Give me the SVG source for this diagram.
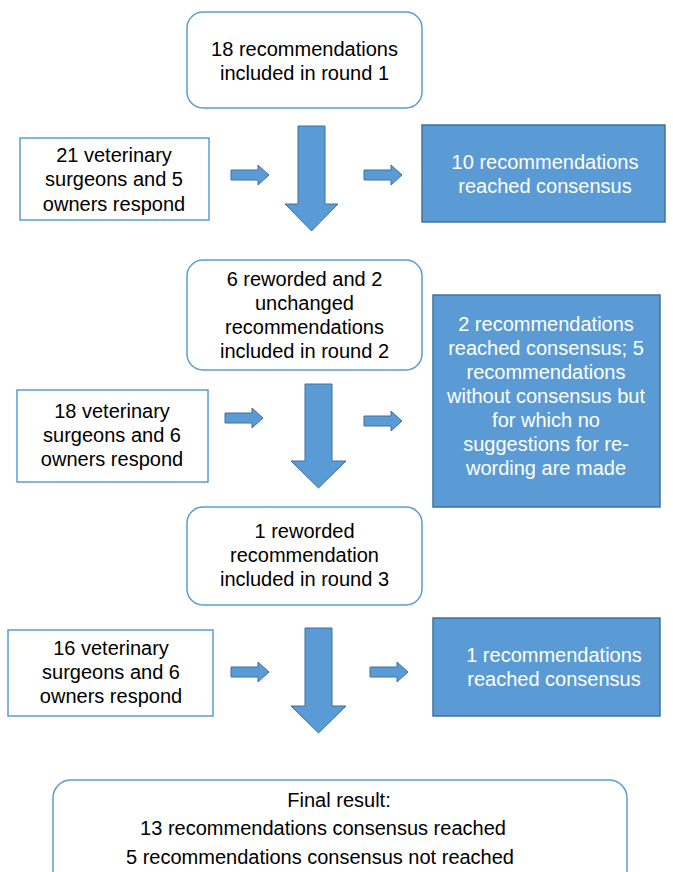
<svg xmlns="http://www.w3.org/2000/svg" width="673" height="872" viewBox="0 0 673 872">
<style>
text{font-family:"Liberation Sans",Arial,sans-serif;font-size:20px;text-anchor:middle;fill:#000}
.w{fill:#fff}
.rnd{fill:#fff;stroke:#5B9BD5;stroke-width:1.5}
.sq{fill:#fff;stroke:#5B9BD5;stroke-width:1.5}
.bl{fill:#5B9BD5;stroke:#41719C;stroke-width:1.5}
.ar{fill:#5B9BD5;stroke:#41719C;stroke-width:1}
</style>
<rect width="673" height="872" fill="#fff"/>
<g id="round1">
<rect class="rnd" x="187" y="12" width="235" height="96" rx="16"/>
<text x="304.5" y="56">18 recommendations</text>
<text x="304.5" y="80">included in round 1</text>
</g>
<g id="respond1">
<rect class="sq" x="20" y="138" width="189" height="82"/>
<text x="114" y="162">21 veterinary</text>
<text x="114" y="186">surgeons and 5</text>
<text x="114" y="211">owners respond</text>
</g>
<g id="result1">
<rect class="bl" x="422" y="125" width="243" height="97"/>
<text class="w" x="545" y="169">10 recommendations</text>
<text class="w" x="545" y="193">reached consensus</text>
</g>
<g id="round2">
<rect class="rnd" x="187" y="260" width="235" height="110" rx="16"/>
<text x="304.5" y="286">6 reworded and 2</text>
<text x="304.5" y="310">unchanged</text>
<text x="304.5" y="334">recommendations</text>
<text x="304.5" y="358">included in round 2</text>
</g>
<g id="respond2">
<rect class="sq" x="17" y="390" width="191" height="92"/>
<text x="112" y="418">18 veterinary</text>
<text x="112" y="442">surgeons and 6</text>
<text x="112" y="466">owners respond</text>
</g>
<g id="result2">
<rect class="bl" x="433" y="295" width="227" height="212"/>
<text class="w" x="546" y="331">2 recommendations</text>
<text class="w" x="546" y="355">reached consensus; 5</text>
<text class="w" x="546" y="379">recommendations</text>
<text class="w" x="546" y="403">without consensus but</text>
<text class="w" x="546" y="427">for which no</text>
<text class="w" x="546" y="451">suggestions for re-</text>
<text class="w" x="546" y="475">wording are made</text>
</g>
<g id="round3">
<rect class="rnd" x="187" y="507" width="235" height="98" rx="16"/>
<text x="304.5" y="538">1 reworded</text>
<text x="304.5" y="562">recommendation</text>
<text x="304.5" y="586">included in round 3</text>
</g>
<g id="respond3">
<rect class="sq" x="8" y="630" width="205" height="86"/>
<text x="111" y="655">16 veterinary</text>
<text x="111" y="679">surgeons and 6</text>
<text x="111" y="703">owners respond</text>
</g>
<g id="result3">
<rect class="bl" x="433" y="618" width="227" height="98"/>
<text class="w" x="554" y="662">1 recommendations</text>
<text class="w" x="554" y="686">reached consensus</text>
</g>
<g id="final">
<rect class="rnd" x="53" y="780" width="574" height="110" rx="18"/>
<text x="339" y="807">Final result:</text>
<text x="323" y="835">13 recommendations consensus reached</text>
<text x="320" y="864">5 recommendations consensus not reached</text>
</g>
<g id="connectors">
<path class="ar" d="M298,126 H325 V204 H338 L311.5,231 L285,204 H298 Z"/>
<path class="ar" d="M231,170 H258 V165 L269,175 L258,185 V180 H231 Z"/>
<path class="ar" d="M364,170 H391 V165 L402,175 L391,185 V180 H364 Z"/>
<path class="ar" d="M305,384 H332 V461 H346 L318.5,488 L291,461 H305 Z"/>
<path class="ar" d="M225,413 H252 V408 L263,418 L252,428 V423 H225 Z"/>
<path class="ar" d="M364,416 H391 V411 L402,421 L391,431 V426 H364 Z"/>
<path class="ar" d="M305,628 H332 V706 H346 L318.5,733 L291,706 H305 Z"/>
<path class="ar" d="M231,667 H258 V662 L269,672 L258,682 V677 H231 Z"/>
<path class="ar" d="M370,667 H397 V662 L408,672 L397,682 V677 H370 Z"/>
</g>
</svg>
